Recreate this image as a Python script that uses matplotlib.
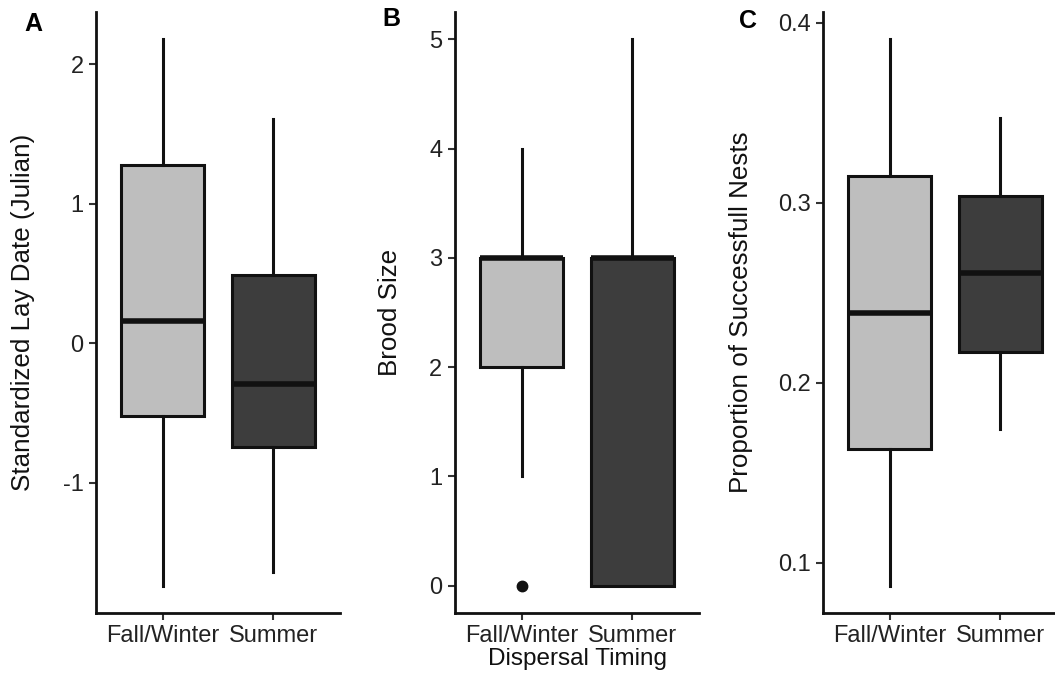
import matplotlib
matplotlib.use('Agg')
import matplotlib.pyplot as plt

plt.rcParams['font.family'] = ['Liberation Sans', 'DejaVu Sans']

groups = ['Fall/Winter', 'Summer']
fills = ['#bebebe', '#3d3d3d']

# panel A: standardized lay date
lay_med = [0.16, -0.29]
lay_q1 = [-0.52, -0.745]
lay_q3 = [1.28, 0.49]
lay_lo = [-1.74, -1.64]
lay_hi = [2.18, 1.61]
lay_out = [[], []]

# panel B: brood size
brood_med = [3, 3]
brood_q1 = [2, 0]
brood_q3 = [3, 3]
brood_lo = [1, 0]
brood_hi = [4, 5]
brood_out = [[0], []]

# panel C: proportion of successful nests
prop_med = [0.239, 0.261]
prop_q1 = [0.163, 0.217]
prop_q3 = [0.315, 0.304]
prop_lo = [0.087, 0.174]
prop_hi = [0.391, 0.347]
prop_out = [[], []]

panels = [
    ('A', 'Standardized Lay Date (Julian)', lay_med, lay_q1, lay_q3, lay_lo, lay_hi, lay_out, [2, 1, 0, -1], ['2', '1', '0', '-1'], (-1.936, 2.376)),
    ('B', 'Brood Size', brood_med, brood_q1, brood_q3, brood_lo, brood_hi, brood_out, [0, 1, 2, 3, 4, 5], ['0', '1', '2', '3', '4', '5'], (-0.25, 5.25)),
    ('C', 'Proportion of Successfull Nests', prop_med, prop_q1, prop_q3, prop_lo, prop_hi, prop_out, [0.1, 0.2, 0.3, 0.4], ['0.1', '0.2', '0.3', '0.4'], (0.072, 0.406)),
]

W, H = 1055, 677
fig = plt.figure(figsize=(W / 100, H / 100), dpi=100)
lefts = [96, 455, 823]
ax_w = 244
top, bottom = 12, 613
ylab_x = [23, 390, 741]   # pixel centre of y labels
tag_xy = [(24, 24), (382, 19), (739, 21)]

for i, (tag, ylab, med, q1, q3, lo, hi, out, yt, ytl, ylim) in enumerate(panels):
    ax = fig.add_axes([lefts[i] / W, 1 - bottom / H, ax_w / W, (bottom - top) / H])
    stats = []
    for k in range(2):
        stats.append(dict(med=med[k], q1=q1[k], q3=q3[k], whislo=lo[k], whishi=hi[k], fliers=out[k]))
    bp = ax.bxp(stats, positions=[1, 2], widths=0.75, showcaps=False, patch_artist=True,
                boxprops=dict(edgecolor='#111111', linewidth=2.2),
                whiskerprops=dict(color='#111111', linewidth=2.2),
                medianprops=dict(color='#111111', linewidth=4, solid_capstyle='butt'),
                flierprops=dict(marker='o', markerfacecolor='#111111', markeredgecolor='#111111', markersize=7.5))
    for patch, c in zip(bp['boxes'], fills):
        patch.set_facecolor(c)
    ax.set_xlim(0.4, 2.6)
    ax.set_ylim(*ylim)
    ax.set_yticks(yt)
    ax.set_yticklabels(ytl)
    ax.set_xticks([1, 2])
    ax.set_xticklabels(groups)
    for s in ['top', 'right']:
        ax.spines[s].set_visible(False)
    for s in ['left', 'bottom']:
        ax.spines[s].set_linewidth(2)
        ax.spines[s].set_color('#111111')
    ax.tick_params(axis='both', length=5, width=1.5, color='#333333', labelsize=17, labelcolor='#222222', pad=4)
    ax.set_ylabel(ylab, fontsize=18.7, color='#111111', va='center')
    ax.yaxis.set_label_coords((ylab_x[i] - lefts[i]) / ax_w, 0.5)
    if tag == 'B':
        ax.set_xlabel('Dispersal Timing', fontsize=17.5, color='#111111', labelpad=0)
    fig.text(tag_xy[i][0] / W, 1 - tag_xy[i][1] / H, tag, fontsize=18, fontweight='bold', ha='left', va='center')

fig.savefig('out.png', dpi=100)
